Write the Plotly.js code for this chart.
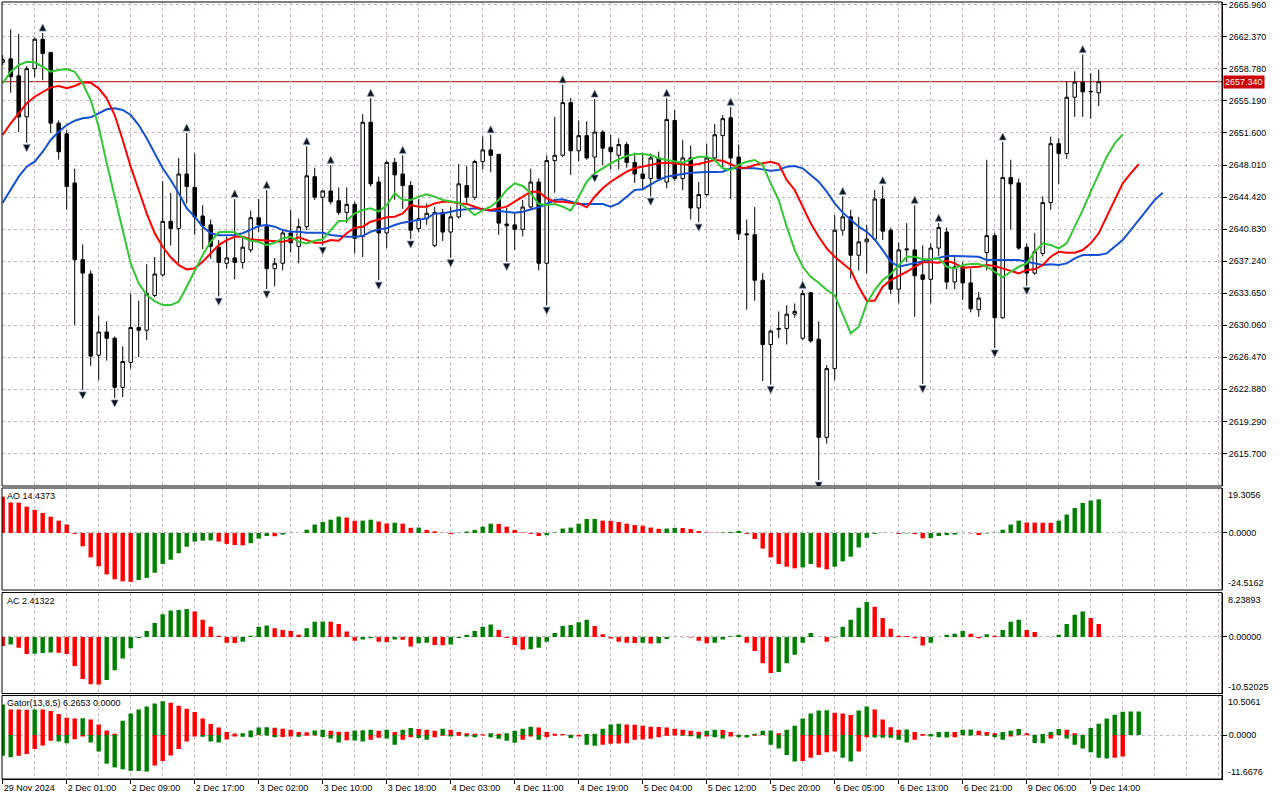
<!DOCTYPE html>
<html>
<head>
<meta charset="utf-8">
<script src="https://cdn.plot.ly/plotly-3.0.1.min.js"></script>
<style>html,body{margin:0;padding:0;background:#fff;}#chart{width:1280px;height:800px;}</style>
</head>
<body>
<div id="chart"></div>
<script>
// ---------- DATA ----------
const timeLabels = ["29 Nov 2024","2 Dec 01:00","2 Dec 09:00","2 Dec 17:00","3 Dec 02:00","3 Dec 10:00","3 Dec 18:00","4 Dec 03:00","4 Dec 11:00","4 Dec 19:00","5 Dec 04:00","5 Dec 12:00","5 Dec 20:00","6 Dec 05:00","6 Dec 13:00","6 Dec 21:00","9 Dec 06:00","9 Dec 14:00"];
const labelBars = [0,8,16,24,32,40,48,56,64,72,80,88,96,104,112,120,128,136];

const openP = [2659.5,2659.9,2658.0,2653.4,2658.8,2662.1,2660.6,2652.7,2651.5,2646.0,
2637.4,2635.8,2626.7,2629.3,2628.6,2623.1,2625.9,2629.8,2629.5,2633.4,
2635.7,2641.7,2640.9,2647.0,2645.5,2642.3,2641.3,2638.8,2637.0,2637.6,
2637.1,2638.5,2642.1,2641.1,2636.4,2637.0,2640.4,2638.9,2641.1,2646.7,
2644.4,2645.1,2644.0,2642.7,2643.6,2640.0,2652.8,2646.1,2640.4,2648.3,
2647.0,2645.7,2640.9,2642.0,2639.0,2642.7,2640.5,2642.2,2645.7,2644.4,
2648.4,2649.7,2649.2,2641.4,2641.3,2640.8,2643.3,2646.1,2637.0,2648.5,
2649.1,2655.0,2649.6,2651.3,2648.9,2651.7,2650.0,2649.1,2650.3,2648.3,
2647.0,2646.5,2648.8,2646.1,2653.0,2646.5,2648.8,2643.2,2644.7,2648.8,
2651.3,2653.3,2648.9,2640.3,2640.2,2635.1,2627.9,2629.6,2629.7,2631.3,
2628.6,2633.7,2628.5,2617.5,2625.2,2640.7,2642.2,2637.9,2639.4,2639.7,
2644.2,2640.7,2634.1,2638.5,2638.5,2635.7,2635.2,2638.7,2640.5,2634.9,
2636.6,2634.8,2631.8,2638.2,2640.1,2630.9,2646.6,2646.0,2638.8,2635.9,
2638.1,2643.8,2650.4,2649.3,2655.6,2657.3,2656.2,2656.1];
const highP = [2660.3,2663.2,2662.7,2659.1,2662.3,2662.8,2660.7,2653.0,2651.9,2647.6,
2639.1,2636.2,2631.1,2630.5,2628.8,2627.7,2633.6,2632.8,2636.9,2637.7,
2646.2,2644.9,2648.8,2651.6,2649.3,2643.5,2641.9,2639.6,2640.0,2644.2,
2640.0,2642.9,2644.2,2645.2,2637.6,2640.7,2643.0,2642.0,2650.1,2647.7,
2645.2,2648.0,2645.5,2645.5,2643.9,2653.7,2655.5,2646.7,2648.5,2648.8,
2649.1,2646.2,2644.2,2643.7,2643.3,2643.1,2643.3,2648.1,2647.9,2648.6,
2651.2,2651.4,2649.2,2643.2,2642.6,2644.1,2647.6,2646.5,2649.1,2653.4,
2657.0,2655.5,2653.0,2652.9,2655.4,2651.9,2651.4,2651.0,2650.6,2649.4,
2649.4,2649.3,2649.5,2655.5,2654.2,2650.8,2650.2,2646.1,2650.4,2652.6,
2653.6,2654.5,2650.3,2641.9,2643.3,2635.9,2629.6,2631.6,2632.3,2632.5,
2634.0,2633.8,2630.5,2625.6,2642.4,2644.5,2643.0,2642.2,2641.3,2645.2,
2645.7,2641.0,2639.3,2641.5,2643.5,2639.0,2639.2,2641.5,2641.0,2637.7,
2637.1,2636.4,2633.8,2648.6,2640.4,2650.6,2648.6,2646.5,2639.2,2640.4,
2644.5,2651.2,2651.0,2657.4,2658.5,2660.4,2658.3,2658.7];
const lowP = [2659.2,2656.1,2651.7,2650.5,2657.8,2657.5,2651.6,2648.6,2643.0,2630.1,
2622.8,2625.5,2623.9,2626.1,2621.9,2622.0,2625.2,2626.5,2628.4,2633.2,
2635.5,2639.0,2637.0,2643.7,2640.2,2638.6,2637.5,2633.3,2636.4,2635.2,
2636.4,2638.2,2640.5,2634.1,2634.4,2636.2,2638.2,2637.0,2640.7,2644.1,
2639.0,2643.6,2642.4,2641.5,2638.1,2637.7,2645.6,2635.1,2638.7,2644.1,
2643.1,2639.7,2640.5,2641.3,2638.8,2639.5,2637.6,2642.0,2643.5,2644.1,
2647.5,2647.2,2640.2,2637.2,2638.5,2640.0,2643.0,2636.2,2632.3,2644.9,
2648.9,2646.9,2648.4,2648.6,2647.1,2648.0,2647.5,2647.5,2647.7,2646.0,
2645.2,2644.5,2646.3,2645.4,2646.2,2645.2,2641.9,2641.6,2644.5,2648.6,
2647.7,2644.2,2639.6,2631.8,2632.8,2623.8,2623.4,2628.6,2627.9,2630.9,
2628.4,2628.1,2612.7,2616.8,2623.9,2640.1,2635.3,2636.2,2635.9,2639.5,
2639.6,2633.6,2632.5,2637.1,2631.0,2623.5,2632.5,2637.8,2634.1,2634.1,
2632.9,2631.5,2631.0,2636.2,2627.5,2630.8,2640.8,2638.5,2634.5,2635.7,
2637.8,2643.0,2645.9,2648.7,2653.4,2653.4,2653.2,2654.6];
const closeP = [2659.8,2657.9,2653.4,2658.8,2662.1,2660.5,2652.7,2649.5,2645.6,2637.4,
2635.9,2626.6,2629.3,2628.6,2623.1,2626.0,2629.8,2629.5,2633.6,2635.8,
2641.7,2640.9,2647.0,2645.6,2642.2,2641.2,2638.9,2637.1,2637.6,2637.1,
2638.8,2642.1,2641.3,2636.4,2637.0,2640.4,2639.3,2641.1,2646.8,2644.4,
2645.1,2643.9,2642.7,2643.6,2639.8,2652.8,2645.9,2640.4,2648.3,2646.9,
2645.7,2640.7,2642.0,2642.6,2642.7,2640.5,2642.2,2645.9,2644.4,2648.4,
2649.7,2649.1,2641.5,2641.2,2640.8,2643.3,2646.1,2637.0,2648.5,2649.1,
2655.0,2649.6,2651.3,2648.8,2651.7,2649.9,2649.5,2650.3,2648.3,2647.0,
2646.5,2648.8,2646.5,2653.1,2646.5,2648.8,2643.2,2644.7,2648.8,2651.4,
2653.2,2648.8,2640.3,2640.2,2635.1,2627.9,2629.4,2629.7,2631.3,2631.6,
2633.6,2628.3,2617.5,2625.2,2640.7,2642.2,2637.9,2639.4,2639.7,2644.2,
2640.6,2634.1,2638.5,2638.6,2635.6,2635.2,2638.7,2641.0,2634.9,2636.6,
2634.8,2631.9,2633.1,2640.1,2630.9,2646.6,2645.9,2638.7,2635.9,2638.3,
2643.8,2650.4,2649.3,2655.6,2657.3,2656.2,2656.25,2657.34];

// Alligator (already shifted forward: jaw +8, teeth +5, lips +3 bars)
const jaw = [2643.79,2645.21,2646.70,2647.82,2648.38,2649.50,2650.81,2651.74,2652.49,2652.97,
2653.24,2653.35,2653.80,2654.25,2654.36,2654.17,2653.61,2652.49,2651.00,2649.32,
2647.64,2646.33,2644.84,2643.16,2642.22,2641.10,2640.36,2640.13,2640.17,2640.17,
2640.36,2640.80,2641.17,2641.29,2641.10,2640.72,2640.54,2640.54,2640.42,2640.42,
2640.42,2640.17,2640.05,2639.97,2639.97,2640.05,2640.54,2640.80,2640.92,2641.29,
2641.55,2641.73,2641.85,2642.03,2642.59,2642.59,2642.78,2642.96,2643.04,2643.16,
2643.04,2642.89,2642.85,2642.78,2642.67,2642.78,2643.04,2643.27,2643.64,2644.09,
2644.16,2643.90,2643.64,2643.64,2643.64,2643.64,2643.34,2643.71,2644.46,2645.21,
2645.30,2645.77,2646.33,2646.70,2646.89,2647.00,2647.14,2647.22,2647.22,2647.22,
2647.26,2647.64,2647.64,2647.64,2647.64,2647.52,2647.37,2647.45,2647.82,2647.90,
2647.64,2646.89,2646.14,2645.02,2643.71,2642.67,2641.85,2641.10,2640.54,2639.68,
2638.48,2637.18,2636.61,2636.80,2636.99,2637.18,2637.36,2637.55,2637.81,2637.81,
2637.81,2637.81,2637.73,2637.36,2637.36,2637.36,2637.44,2637.36,2637.18,2636.99,
2636.80,2636.88,2636.80,2636.99,2637.55,2637.92,2637.92,2637.92,2638.11,2638.85,
2639.60,2640.72,2641.85,2642.96,2644.09,2644.91];
const teeth = [2651.37,2652.68,2653.80,2654.92,2655.66,2656.22,2656.71,2656.86,2656.60,2656.86,
2657.27,2657.23,2656.60,2655.48,2653.61,2650.81,2647.82,2645.21,2642.59,2640.36,
2638.85,2637.67,2636.80,2636.32,2636.43,2637.18,2638.12,2639.04,2639.60,2639.97,
2639.97,2639.68,2639.60,2639.53,2639.53,2639.41,2639.60,2639.91,2639.60,2639.30,
2639.30,2639.60,2639.53,2640.36,2640.98,2641.10,2641.66,2641.92,2642.15,2642.22,
2642.59,2643.53,2643.34,2643.34,2643.71,2643.90,2643.90,2643.71,2643.64,2643.34,
2643.04,2642.96,2643.16,2643.34,2643.90,2644.46,2645.02,2645.02,2644.28,2643.90,
2643.90,2643.79,2643.71,2643.27,2644.46,2645.40,2646.14,2646.70,2647.26,2647.64,
2647.82,2648.01,2648.20,2648.27,2648.20,2648.12,2648.01,2648.12,2648.38,2648.57,
2648.49,2648.12,2647.70,2647.70,2648.01,2648.20,2648.38,2648.12,2646.33,2645.21,
2643.34,2641.48,2639.97,2638.67,2637.73,2636.99,2636.24,2634.37,2632.81,2632.81,
2634.37,2635.12,2635.57,2636.05,2636.61,2637.11,2637.11,2637.06,2637.29,2636.99,
2636.51,2636.55,2636.61,2636.80,2636.69,2636.43,2636.17,2635.87,2636.24,2636.32,
2636.80,2637.73,2638.29,2638.18,2638.18,2638.48,2639.23,2640.36,2642.22,2644.09,
2645.96,2647.08,2648.09];
const lips = [2657.16,2658.46,2659.21,2659.58,2659.51,2659.02,2658.46,2658.65,2658.76,2658.46,
2657.16,2655.29,2652.30,2648.20,2644.46,2640.72,2636.99,2634.75,2633.44,2632.77,
2632.32,2632.32,2632.69,2634.37,2636.24,2637.92,2639.41,2640.47,2640.54,2640.47,
2639.91,2639.53,2639.41,2639.04,2639.30,2639.80,2639.97,2639.41,2639.23,2639.53,
2639.68,2640.72,2641.73,2641.77,2642.59,2642.96,2643.16,2642.78,2643.53,2644.84,
2644.09,2644.09,2644.46,2644.73,2644.46,2644.09,2643.90,2643.79,2643.16,2642.41,
2642.96,2643.34,2644.09,2645.21,2645.96,2645.66,2644.84,2643.64,2643.53,2643.64,
2643.34,2642.89,2644.46,2646.14,2647.08,2647.64,2648.20,2648.65,2649.02,2649.24,
2649.24,2649.13,2648.76,2648.57,2648.38,2648.27,2648.65,2648.94,2648.94,2648.57,
2647.64,2647.45,2648.01,2648.38,2648.57,2648.01,2645.96,2644.09,2641.10,2638.48,
2636.61,2635.49,2634.82,2634.00,2633.44,2631.39,2629.15,2629.89,2632.51,2634.00,
2635.12,2635.80,2636.80,2637.73,2637.73,2637.44,2637.44,2637.55,2636.61,2636.43,
2636.80,2636.92,2636.92,2636.61,2636.05,2635.43,2636.05,2636.61,2636.99,2638.29,
2639.23,2639.04,2638.67,2639.23,2641.10,2642.96,2645.02,2647.08,2648.94,2650.44,
2651.44];

const fractalUp = [5,23,29,33,38,41,46,50,61,70,74,83,91,100,105,110,114,117,125,135];
const fractalDown = [3,10,14,27,33,40,47,51,56,63,68,74,81,87,96,102,115,124,128];

const aoValues = [15.6,13.1,13.0,11.3,9.9,8.6,7.0,5.3,3.6,-0.4,
-5.7,-10.5,-14.3,-17.8,-19.9,-20.8,-21.0,-20.2,-19.3,-17.1,
-13.3,-11.5,-8.7,-5.9,-3.7,-3.3,-3.2,-3.7,-4.7,-5.2,
-5.3,-4.4,-2.4,-1.3,-1.4,-0.7,0.1,0.0,1.4,3.6,
4.7,5.7,7.0,6.6,5.2,5.3,5.7,4.9,4.1,4.4,
4.0,2.2,2.3,1.3,0.7,0.1,-0.5,0.1,0.6,1.3,
2.7,4.0,3.9,2.7,1.3,0.2,-0.4,-1.3,-1.0,0.2,
1.9,2.3,4.0,6.0,6.05,5.3,5.2,4.7,4.0,3.4,
3.1,2.3,1.8,1.9,2.2,2.1,1.7,0.8,0.2,0.1,
0.2,0.4,0.9,-0.4,-2.6,-6.7,-10.5,-13.3,-14.5,-15.2,
-14.8,-13.3,-14.8,-15.6,-14.5,-12.2,-10.2,-6.2,-2.1,-0.4,
0.1,0.0,-0.4,-0.2,-0.5,-2.3,-2.2,-1.3,-0.9,-0.7,
-0.1,-0.2,-0.9,-0.2,0.1,1.4,3.6,5.3,4.5,4.45,
4.4,4.35,5.3,7.9,10.7,12.9,13.9,14.4373];
const acValues = [-1.7,-1.4,-2.0,-3.2,-3.15,-3.0,-2.9,-2.95,-3.2,-5.4,
-7.8,-8.8,-8.85,-8.0,-6.2,-4.0,-2.1,-0.2,1.1,2.6,
4.2,4.9,5.0,5.2,4.7,3.2,1.9,0.2,-1.1,-1.15,
-0.9,0.2,1.9,2.1,1.6,1.3,1.1,0.4,1.6,2.8,
2.85,2.8,2.4,1.0,-0.7,-0.5,-0.25,-0.9,-0.95,-0.5,
-0.55,-1.8,-1.2,-1.1,-1.5,-1.55,-1.4,-0.2,0.4,1.1,
1.9,2.3,1.3,-0.2,-1.5,-2.4,-2.3,-2.0,-0.9,0.7,
2.0,2.2,2.7,3.2,2.0,0.5,-0.3,-0.9,-1.1,-1.15,
-1.1,-1.25,-1.2,-0.4,0.0,-0.05,-0.1,-0.7,-1.2,-1.1,
-0.5,0.1,0.4,-1.1,-2.6,-4.9,-6.7,-6.5,-4.9,-3.3,
-1.1,0.7,0.0,-0.9,-0.1,1.9,3.2,5.4,6.5,5.6,
3.5,1.5,0.2,0.15,-0.25,-1.6,-1.1,0.0,0.4,0.6,
1.1,0.6,-0.25,0.5,0.2,1.3,2.8,3.2,1.3,0.9,
0.0,-0.05,0.4,2.4,4.1,4.7,3.5,2.41322];
const gatorUpper = [8.1,6.8,6.75,6.7,6.8,6.75,6.4,5.6,4.6,4.4,
4.45,4.1,2.8,1.2,0.35,3.8,5.7,6.8,7.6,8.4,
9.0,8.55,7.8,7.0,6.1,4.4,2.9,2.0,0.8,0.4,
0.45,1.2,2.0,2.05,1.95,1.7,1.4,0.8,0.75,1.2,
1.4,1.15,0.9,0.85,1.2,1.25,1.4,1.15,1.4,0.8,
1.4,1.9,1.6,1.4,1.15,1.7,1.4,0.8,0.5,0.35,
0.2,0.5,0.35,0.5,1.15,1.7,2.2,2.0,0.8,0.35,
0.3,0.1,0.05,0.3,0.35,1.7,2.8,3.0,2.8,2.75,
2.5,2.2,2.15,2.0,1.7,1.4,1.15,0.9,1.15,1.4,
1.35,0.8,0.05,0.04,0.35,1.15,1.2,0.5,1.4,2.5,
4.4,5.7,6.5,6.55,5.9,5.7,5.35,6.5,7.6,6.8,
4.1,2.1,1.4,1.45,0.8,0.25,0.3,0.8,0.85,0.8,
1.4,1.45,1.15,0.8,0.5,0.8,1.15,1.6,0.5,0.05,
0.3,0.8,1.6,1.4,0.5,0.05,1.9,3.0,4.4,5.4,
6.2,6.25,6.2653];
const gatorLower = [-5.5,-5.9,-5.5,-5.0,-3.7,-2.8,-1.5,-1.7,-2.2,-1.1,
-0.4,-2.0,-4.4,-7.6,-8.6,-9.1,-9.5,-9.55,-9.7,-8.1,
-6.9,-5.4,-3.7,-1.7,-0.4,-0.45,-1.7,-2.0,-1.2,-0.4,
-0.45,-0.6,-0.05,-0.1,-0.6,-0.55,-0.4,-0.45,-0.2,-0.15,
-0.55,-0.9,-2.0,-1.4,-1.45,-1.7,-1.25,-0.7,-0.9,-2.6,
-1.25,-0.6,-0.8,-1.25,-0.6,-0.2,-0.4,-0.2,-0.4,-0.6,
-0.1,-0.6,-1.0,-1.5,-2.05,-1.25,-0.4,-1.25,-0.6,-0.2,
-0.05,-0.8,-0.4,-2.6,-2.85,-2.6,-2.3,-2.25,-2.2,-1.25,
-1.2,-1.0,-0.6,-0.2,-0.1,-0.2,-0.35,-0.9,-0.4,-0.6,
-0.9,-0.4,-0.6,-0.65,-0.2,-0.05,-2.6,-3.6,-5.3,-7.0,
-6.9,-6.0,-5.3,-4.6,-4.4,-6.0,-7.0,-4.4,-0.6,-0.65,
-0.7,-0.75,-1.25,-2.0,-1.25,-0.2,-0.4,-0.6,-0.65,-0.6,
-0.05,-0.1,-0.05,-0.2,-0.6,-1.25,-0.4,-0.05,-0.04,-2.1,
-2.15,-0.9,-0.05,-0.9,-2.6,-3.6,-4.6,-6.0,-6.2,-6.0,
-5.7];

const priceTicks = [2615.70,2619.29,2622.88,2626.47,2630.06,2633.65,2637.24,2640.83,2644.42,2648.01,2651.60,2655.19,2658.78,2662.37,2665.96];
const lastPrice = 2657.34;
const aoRange = [-24.5162, 19.3056];
const acRange = [-10.52025, 8.23893];
const gatorRange = [-11.6676, 10.5061];
const aoLabel = "AO 14.4373";
const acLabel = "AC 2.41322";
const gatorLabel = "Gator(13,8,5) 6.2653 0.0000";

// ---------- DRAWING ----------
const GREEN = '#008000', RED = '#ff0000';
const GRID = '#c2b6c2';
const FONT = 'Liberation Sans, Arial, sans-serif';
const idx = arr => arr.map((_, i) => i);
function dirColors(vals, firstUp, useAbs) {
  return vals.map((v, i) => {
    if (i === 0) return firstUp ? GREEN : RED;
    const a = useAbs ? Math.abs(v) : v;
    const b = useAbs ? Math.abs(vals[i - 1]) : vals[i - 1];
    return a > b ? GREEN : RED;
  });
}

const traces = [
  {type:'candlestick', x:idx(openP), open:openP, high:highP, low:lowP, close:closeP,
   xaxis:'x', yaxis:'y', whiskerwidth:0, hoverinfo:'skip',
   increasing:{line:{color:'#000', width:1}, fillcolor:'#ffffff'},
   decreasing:{line:{color:'#000', width:1}, fillcolor:'#000000'}},
  {type:'scatter', mode:'lines', x:idx(jaw), y:jaw, xaxis:'x', yaxis:'y', line:{color:'#1450d2', width:2}, hoverinfo:'skip'},
  {type:'scatter', mode:'lines', x:idx(teeth), y:teeth, xaxis:'x', yaxis:'y', line:{color:'#ff0000', width:2}, hoverinfo:'skip'},
  {type:'scatter', mode:'lines', x:idx(lips), y:lips, xaxis:'x', yaxis:'y', line:{color:'#32c832', width:2}, hoverinfo:'skip'},
  {type:'scatter', mode:'markers', x:fractalUp, y:fractalUp.map(i => highP[i] + 1.0), xaxis:'x', yaxis:'y',
   marker:{symbol:'arrow-up', size:7, color:'#111', line:{color:'#6f86b0', width:0.7}}, hoverinfo:'skip'},
  {type:'scatter', mode:'markers', x:fractalDown, y:fractalDown.map(i => lowP[i] - 1.0), xaxis:'x', yaxis:'y',
   marker:{symbol:'arrow-down', size:7, color:'#111', line:{color:'#6f86b0', width:0.7}}, hoverinfo:'skip'},
  {type:'bar', x:idx(aoValues), y:aoValues, xaxis:'x', yaxis:'y2', width:0.55,
   marker:{color:dirColors(aoValues, false, false), line:{width:0}}, hoverinfo:'skip'},
  {type:'bar', x:idx(acValues), y:acValues, xaxis:'x', yaxis:'y3', width:0.55,
   marker:{color:dirColors(acValues, false, false), line:{width:0}}, hoverinfo:'skip'},
  {type:'bar', x:idx(gatorUpper), y:gatorUpper, xaxis:'x', yaxis:'y4', width:0.55,
   marker:{color:dirColors(gatorUpper, true, false), line:{width:0}}, hoverinfo:'skip'},
  {type:'bar', x:idx(gatorLower), y:gatorLower, xaxis:'x', yaxis:'y4', width:0.55,
   marker:{color:dirColors(gatorLower, true, true), line:{width:0}}, hoverinfo:'skip'}
];

const tickFont = {family:FONT, size:9, color:'#000'};
function subAxis(domain, range, zeroText) {
  return {domain:domain, range:range, side:'right', anchor:'x', fixedrange:true,
    tickmode:'array', tickvals:[0], ticktext:[zeroText], ticks:'outside', ticklen:4, tickcolor:'#000',
    showgrid:true, gridcolor:GRID, griddash:'3px,3px', gridwidth:1, zeroline:false,
    showline:true, linecolor:'#000', linewidth:1, tickfont:tickFont, automargin:false};
}

const domMain = [0.3771, 1], domAO = [0.2432, 0.3745], domAC = [0.1100, 0.2400], domG = [0, 0.1075];

const layout = {
  width:1280, height:800,
  margin:{l:2, r:58, t:2, b:21, pad:0},
  paper_bgcolor:'#ffffff', plot_bgcolor:'#ffffff',
  showlegend:false, barmode:'overlay', boxgap:0.38,
  font:{family:FONT, size:9, color:'#000'},
  xaxis:{range:[-0.0875, 152.41], anchor:'y4', fixedrange:true,
    tickmode:'array', tickvals:labelBars, ticktext:timeLabels,
    ticks:'outside', ticklen:4, tickcolor:'#000', ticklabelposition:'outside right',
    showgrid:true, gridcolor:GRID, griddash:'3px,3px', gridwidth:1,
    minor:{tickmode:'linear', tick0:0, dtick:4, showgrid:true, gridcolor:GRID, griddash:'3px,3px', gridwidth:1, ticks:''},
    zeroline:false, showline:true, linecolor:'#000', linewidth:1,
    tickfont:tickFont, rangeslider:{visible:false}, automargin:false},
  yaxis:{domain:domMain, range:[2612.05, 2666.27], side:'right', anchor:'x', fixedrange:true,
    tickmode:'array', tickvals:priceTicks, ticktext:priceTicks.map(v => v.toFixed(3)),
    ticks:'outside', ticklen:4, tickcolor:'#000', ticklabeloverflow:'allow',
    showgrid:true, gridcolor:GRID, griddash:'3px,3px', gridwidth:1, zeroline:false,
    showline:true, linecolor:'#000', linewidth:1, tickfont:tickFont, automargin:false},
  yaxis2:subAxis(domAO, aoRange, '0.0000'),
  yaxis3:subAxis(domAC, acRange, '0.00000'),
  yaxis4:subAxis(domG, gatorRange, '0.0000'),
  shapes:[
    {type:'line', xref:'paper', x0:0, x1:1, yref:'y', y0:lastPrice, y1:lastPrice, line:{color:'#b40000', width:1}, layer:'below'},
    {type:'rect', xref:'paper', x0:0, x1:1, yref:'y domain', y0:0, y1:1, line:{color:'#000', width:1}},
    {type:'rect', xref:'paper', x0:0, x1:1, yref:'y2 domain', y0:0, y1:1, line:{color:'#000', width:1}},
    {type:'rect', xref:'paper', x0:0, x1:1, yref:'y3 domain', y0:0, y1:1, line:{color:'#000', width:1}},
    {type:'rect', xref:'paper', x0:0, x1:1, yref:'y4 domain', y0:0, y1:1, line:{color:'#000', width:1}}
  ],
  annotations:[
    {xref:'paper', x:1, xanchor:'left', xshift:1, yref:'y', y:lastPrice, yanchor:'middle',
     text:lastPrice.toFixed(3), showarrow:false, bgcolor:'#cc0000', borderpad:1,
     font:{family:FONT, size:9, color:'#ffffff'}},
    {xref:'paper', x:0, xanchor:'left', xshift:3, yref:'y2 domain', y:1, yanchor:'top', yshift:-1, text:aoLabel, showarrow:false, font:{family:FONT, size:9, color:'#000'}},
    {xref:'paper', x:0, xanchor:'left', xshift:3, yref:'y3 domain', y:1, yanchor:'top', yshift:-1, text:acLabel, showarrow:false, font:{family:FONT, size:9, color:'#000'}},
    {xref:'paper', x:0, xanchor:'left', xshift:3, yref:'y4 domain', y:1, yanchor:'top', yshift:-1, text:gatorLabel, showarrow:false, font:{family:FONT, size:9, color:'#000'}},
    {xref:'paper', x:1, xanchor:'left', xshift:4, yref:'y2 domain', y:1, yanchor:'top', text:aoRange[1].toFixed(4), showarrow:false, font:tickFont},
    {xref:'paper', x:1, xanchor:'left', xshift:4, yref:'y2 domain', y:0, yanchor:'bottom', text:aoRange[0].toFixed(4), showarrow:false, font:tickFont},
    {xref:'paper', x:1, xanchor:'left', xshift:4, yref:'y3 domain', y:1, yanchor:'top', text:acRange[1].toFixed(5), showarrow:false, font:tickFont},
    {xref:'paper', x:1, xanchor:'left', xshift:4, yref:'y3 domain', y:0, yanchor:'bottom', text:acRange[0].toFixed(5), showarrow:false, font:tickFont},
    {xref:'paper', x:1, xanchor:'left', xshift:4, yref:'y4 domain', y:1, yanchor:'top', text:gatorRange[1].toFixed(4), showarrow:false, font:tickFont},
    {xref:'paper', x:1, xanchor:'left', xshift:4, yref:'y4 domain', y:0, yanchor:'bottom', text:gatorRange[0].toFixed(4), showarrow:false, font:tickFont}
  ]
};

Plotly.newPlot('chart', traces, layout, {displayModeBar:false, staticPlot:true});
</script>
</body>
</html>
